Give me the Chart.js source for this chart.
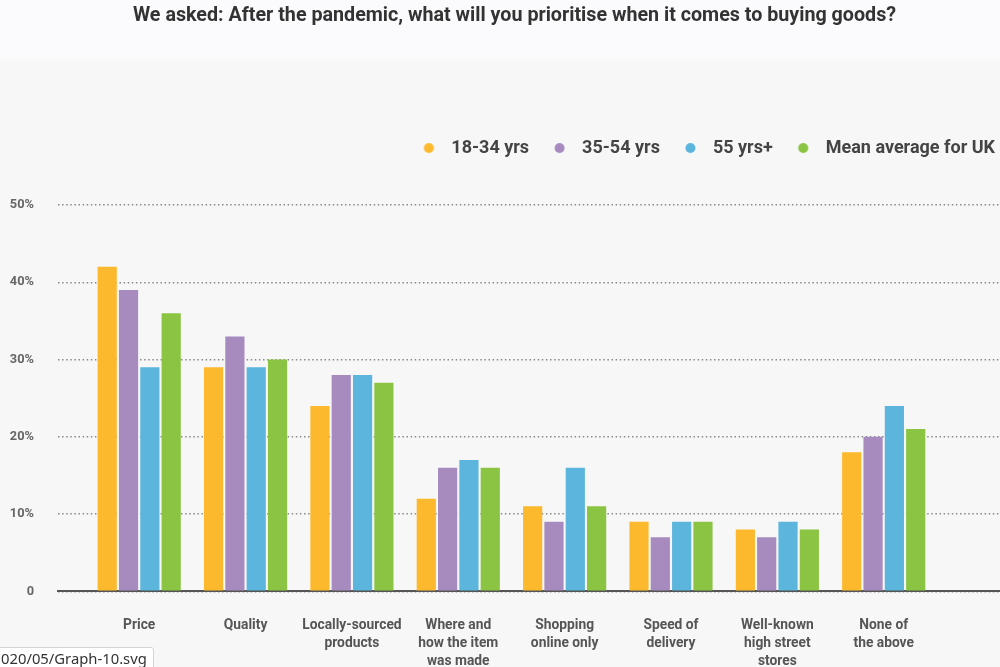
<!DOCTYPE html>
<html><head><meta charset="utf-8">
<script src="https://cdn.jsdelivr.net/npm/chart.js@4"></script>
<style>
html,body{margin:0;padding:0;overflow:hidden;width:1000px;height:667px;}
body{background:#f7f7f7;}
#wrap{position:absolute;left:0;top:0;width:1019px;height:696px;background:linear-gradient(#fbfbfd 0,#fbfbfd 57px,#f7f7f7 62px,#f7f7f7 100%);}
#status{position:absolute;left:-1px;top:647px;height:21px;padding:0 6px 0 1px;background:#fff;border:1px solid #d4d4d4;border-radius:0 3px 0 0;font:14.8px "Noto Sans",sans-serif;line-height:21px;color:#333;}
</style></head><body>
<div id="wrap"><canvas id="c"></canvas></div>
<div id="status">020/05/Graph-10.svg</div>
<script>
const categories = [["Price"],["Quality"],["Locally-sourced","products"],["Where and","how the item","was made"],["Shopping","online only"],["Speed of","delivery"],["Well-known","high street","stores"],["None of","the above"]];
const seriesNames = ["18-34 yrs","35-54 yrs","55 yrs+","Mean average for UK"];
const age18_34 = [42,29,24,12,11,9,8,18];
const age35_54 = [39,33,28,16,9,7,7,20];
const age55plus = [29,29,28,17,16,9,9,24];
const ukMean = [36,30,27,16,11,9,8,21];
const yTicks = [0,10,20,30,40,50];
const colors = ['#fdb92d','#a78bbf','#5bb5dc','#8bc443'];

Chart.defaults.font.family = 'Roboto';

function makeDot(color){
  const c = document.createElement('canvas');
  c.width = 20; c.height = 12;
  const g = c.getContext('2d');
  g.fillStyle = color;
  g.beginPath(); g.arc(6.5, 6, 5, 0, Math.PI*2); g.fill();
  return c;
}
const dots = colors.map(makeDot);

const seriesValues = [age18_34, age35_54, age55plus, ukMean];
const datasets = seriesValues.map((vals, k) => ({
  label: seriesNames[k],
  data: vals.map((v, i) => ({x: i, y: v})),
  backgroundColor: colors[k],
  borderWidth: 0,
  categoryPercentage: 0.802,
  barPercentage: 0.9
}));

const legendSpace = {
  id: 'legendSpace',
  beforeInit(chart){
    const fit = chart.legend.fit;
    chart.legend.fit = function(){ fit.call(this); this.height += 38; };
  }
};

new Chart(document.getElementById('c'), {
  type: 'bar',
  data: { datasets },
  options: {
    responsive: true,
    maintainAspectRatio: false,
    animation: false,
    layout: { padding: { top: 0, left: 10, right: 0, bottom: 0 } },
    plugins: {
      tooltip: { enabled: false },
      title: {
        display: true,
        text: 'We asked: After the pandemic, what will you prioritise when it comes to buying goods?',
        color: '#333',
        font: { size: 19.7, weight: 'bold' },
        padding: { top: 4.2, bottom: 87.2 }
      },
      legend: {
        position: 'top',
        align: 'end',
        labels: {
          usePointStyle: true,
          pointStyleWidth: 20,
          padding: 24,
          color: '#444',
          font: { size: 18, weight: 'bold' },
          generateLabels(chart){
            const items = Chart.defaults.plugins.legend.labels.generateLabels(chart);
            items.forEach((it) => { it.pointStyle = dots[it.datasetIndex]; });
            return items;
          }
        }
      }
    },
    scales: {
      x: {
        type: 'linear',
        offset: false,
        min: -0.7634,
        max: 8.272,
        grid: { display: false, drawTicks: false, offset: false },
        border: { display: true, color: '#555', width: 2 },
        ticks: {
          stepSize: 1,
          includeBounds: false,
          autoSkip: false,
          maxRotation: 0,
          padding: 25,
          color: '#555',
          font: { size: 13.8, weight: 'bold', lineHeight: 1.32 },
          callback: (v) => (Number.isInteger(v) && categories[v]) ? categories[v] : ''
        }
      },
      y: {
        min: 0,
        max: 50,
        afterBuildTicks: (scale) => { scale.ticks = yTicks.map(v => ({value: v})); },
        afterFit: (scale) => { scale.width = 48; },
        grid: { color: '#8a8a8a', lineWidth: 1.5, drawTicks: false },
        border: { display: false, dash: [1.5, 2.6] },
        ticks: {
          padding: 24,
          color: '#666',
          font: { size: 12.8, weight: 'bold' },
          callback: (v) => v === 0 ? '0' : v + '%'
        }
      }
    }
  },
  plugins: [legendSpace]
});
</script>
</body></html>
